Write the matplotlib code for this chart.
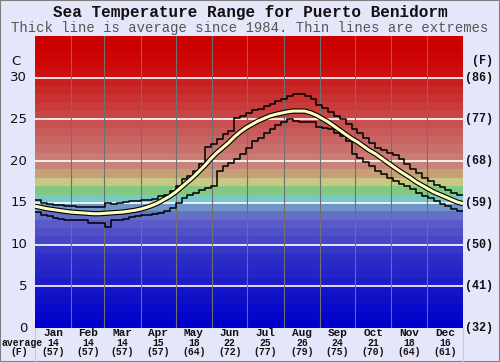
#!/usr/bin/env python3
"""Sea temperature range chart for Puerto Benidorm."""

import matplotlib

matplotlib.use("Agg")
import matplotlib.pyplot as plt
from matplotlib.patches import Rectangle

TITLE = "Sea Temperature Range for Puerto Benidorm"
SUBTITLE = "Thick line is average since 1984. Thin lines are extremes"

MONTHS = ["Jan", "Feb", "Mar", "Apr", "May", "Jun",
          "Jul", "Aug", "Sep", "Oct", "Nov", "Dec"]
MONTH_DAYS = [31, 28, 31, 30, 31, 30, 31, 31, 30, 31, 30, 31]
AVG_C = [14, 14, 14, 15, 18, 22, 25, 26, 24, 21, 18, 16]
AVG_F = [57, 57, 57, 57, 64, 72, 77, 79, 75, 70, 64, 61]

C_TICKS = [0, 5, 10, 15, 20, 25, 30]
F_LABELS = ["(32)", "(41)", "(50)", "(59)", "(68)", "(77)", "(86)"]

# day of year, every 5 days (0 .. 360)
DAYS = list(range(0, 365, 5))

MAX_T = [15.4, 15.0, 14.9, 14.8, 14.7, 14.6, 14.6, 14.5, 14.5, 14.5,
         14.5, 14.5, 15.0, 14.9, 15.0, 15.1, 15.2, 15.2, 15.3, 15.4,
         15.5, 15.8, 16.0, 16.4, 17.0, 17.8, 18.2, 18.8, 19.6, 21.7,
         22.0, 22.6, 23.2, 23.6, 25.2, 25.4, 25.8, 26.1, 26.2, 26.6,
         26.8, 27.2, 27.5, 27.8, 28.1, 28.0, 27.8, 27.5, 26.7, 26.4,
         25.9, 25.4, 25.0, 24.4, 23.9, 23.4, 22.8, 22.2, 21.6, 21.3,
         21.0, 20.7, 20.2, 19.6, 19.0, 18.6, 18.0, 17.6, 17.2, 16.9,
         16.6, 16.2, 15.9]

MIN_T = [13.9, 13.6, 13.4, 13.2, 13.1, 13.0, 13.0, 13.0, 12.9, 12.6,
         12.6, 12.6, 12.1, 13.0, 13.0, 13.1, 13.3, 13.4, 13.5, 13.6,
         13.7, 13.8, 14.0, 14.4, 15.0, 15.6, 15.9, 16.2, 16.5, 16.8,
         17.0, 18.8, 19.4, 19.8, 20.2, 20.8, 21.6, 22.4, 22.8, 23.4,
         23.9, 24.3, 24.7, 25.1, 24.8, 24.7, 24.7, 24.7, 24.1, 24.0,
         23.8, 23.4, 23.0, 22.4, 20.8, 20.4, 19.9, 19.4, 18.8, 18.4,
         18.0, 17.6, 17.3, 17.0, 16.7, 16.2, 15.8, 15.6, 15.2, 14.9,
         14.6, 14.3, 14.0]

AVG_T = [14.6, 14.45, 14.3, 14.2, 14.1, 14.0, 13.9, 13.85, 13.8, 13.75,
         13.7, 13.7, 13.75, 13.8, 13.85, 13.9, 14.0, 14.1, 14.25, 14.45,
         14.7, 15.0, 15.4, 15.8, 16.3, 16.9, 17.5, 18.1, 18.8, 19.5,
         20.3, 21.0, 21.6, 22.2, 22.9, 23.5, 24.0, 24.4, 24.8, 25.1,
         25.4, 25.6, 25.75, 25.9, 26.0, 26.0, 26.0, 25.8, 25.5, 25.1,
         24.7, 24.2, 23.7, 23.2, 22.7, 22.3, 21.8, 21.3, 20.9, 20.4,
         19.9, 19.4, 18.9, 18.45, 18.0, 17.5, 17.1, 16.7, 16.3, 16.0,
         15.7, 15.4, 15.1]
AVG_END = 14.9

# one colour per 1 degree band, 0..35 C
BAND_COLORS = [
    "#0000cc", "#0505cc", "#0a0acc", "#0f0fc8", "#1414c8",
    "#1e1ec8", "#2323c8", "#2828c8", "#2d2dc8", "#3737c8",
    "#4646c8", "#5050c8", "#5a5ac8", "#6470c8", "#7096c8",
    "#78c8c8", "#82c882", "#c8c882", "#c8a078", "#c88478",
    "#c87c74", "#c8706c", "#c86464", "#c85a5a", "#c85050",
    "#c84646", "#c83c3c", "#c83232", "#c82828", "#c81e1e",
    "#cc1010", "#cc0808", "#cc0404", "#cc0000", "#cc0000",
]

BG = "#e6e6fa"
MONO = "Liberation Mono"
INK = "#111111"


def main():
    fig = plt.figure(figsize=(5.0, 3.62), dpi=100, facecolor=BG)
    ax = fig.add_axes([35 / 500, 34 / 362, 428 / 500, 292 / 362])
    ax.set_xlim(0, 365)
    ax.set_ylim(0, 35)
    for s in ax.spines.values():
        s.set_visible(False)
    ax.set_xticks([])
    ax.set_yticks([])

    for i, c in enumerate(BAND_COLORS):
        ax.axhspan(i, i + 1, color=c, lw=0, zorder=0)

    for t in C_TICKS[1:]:
        ax.axhline(t, color="white", lw=1.2, zorder=1)

    edge = 0
    edges = [0]
    for d in MONTH_DAYS:
        edge += d
        edges.append(edge)
    for e in edges[1:-1]:
        ax.axvline(e, color="#707070", lw=0.8, zorder=1)

    step_x = DAYS + [365]
    ax.step(step_x, MAX_T + [MAX_T[-1]], where="post", color="black",
            lw=1.1, zorder=3)
    ax.step(step_x, MIN_T + [MIN_T[-1]], where="post", color="black",
            lw=1.1, zorder=3)
    ax.plot(step_x, AVG_T + [AVG_END], color="black", lw=3.8, zorder=4,
            solid_capstyle="butt")
    ax.plot(step_x, AVG_T + [AVG_END], color="#ffffc0", lw=2.2, zorder=5,
            solid_capstyle="butt")

    # axis labels
    ytr = ax.get_yaxis_transform()
    for t in C_TICKS:
        ax.text(-0.018, t, str(t), transform=ytr, ha="right", va="center",
                fontsize=9.5, family="DejaVu Sans", color=INK,
                clip_on=False)
    for t, lab in zip(C_TICKS, F_LABELS):
        ax.text(1.004, t, lab, transform=ytr, ha="left", va="center",
                fontsize=8.5, family=MONO, weight="bold", color=INK,
                clip_on=False)
    ax.text(-0.044, 32, "C", transform=ytr, ha="center", va="center",
            fontsize=9.5, family="DejaVu Sans", color=INK)
    ax.text(1.045, 32, "(F)", transform=ytr, ha="center", va="center",
            fontsize=8.5, family=MONO, weight="bold", color=INK)

    xtr = ax.get_xaxis_transform()
    for i, m in enumerate(MONTHS):
        mid = (edges[i] + edges[i + 1]) / 2
        ax.text(mid, -0.018, m, transform=xtr, ha="center", va="center",
                fontsize=8, family=MONO, weight="bold", color=INK)
        ax.text(mid, -0.051, str(AVG_C[i]), transform=xtr, ha="center",
                va="center", fontsize=7, family=MONO, weight="bold",
                color=INK)
        ax.text(mid, -0.083, f"({AVG_F[i]})", transform=xtr, ha="center",
                va="center", fontsize=7, family=MONO, weight="bold",
                color=INK)

    fig.text(2 / 500, 1 - 343 / 362, "average", ha="left", va="center",
             fontsize=7, family=MONO, weight="bold", color=INK)
    fig.text(19 / 500, 1 - 352 / 362, "(F)", ha="center", va="center",
             fontsize=7, family=MONO, weight="bold", color=INK)

    # faint lines framing the label strip
    for xp in (35 / 500, 463 / 500):
        fig.add_artist(plt.Line2D([xp, xp], [0, 34 / 362], color="#c8c8dc",
                                  lw=0.8))

    fig.text(0.5, 1 - 12 / 362, TITLE, ha="center", va="center",
             fontsize=11.5, family=MONO, weight="bold", color=INK)
    fig.text(0.5, 1 - 28 / 362, SUBTITLE, ha="center", va="center",
             fontsize=10, family=MONO, color="#555555")

    fig.add_artist(Rectangle((0, 0), 1, 1, transform=fig.transFigure,
                             fill=False, edgecolor="#808080", lw=1.5))

    fig.savefig("out.png", dpi=100, facecolor=BG)
    plt.close(fig)


if __name__ == "__main__":
    main()
